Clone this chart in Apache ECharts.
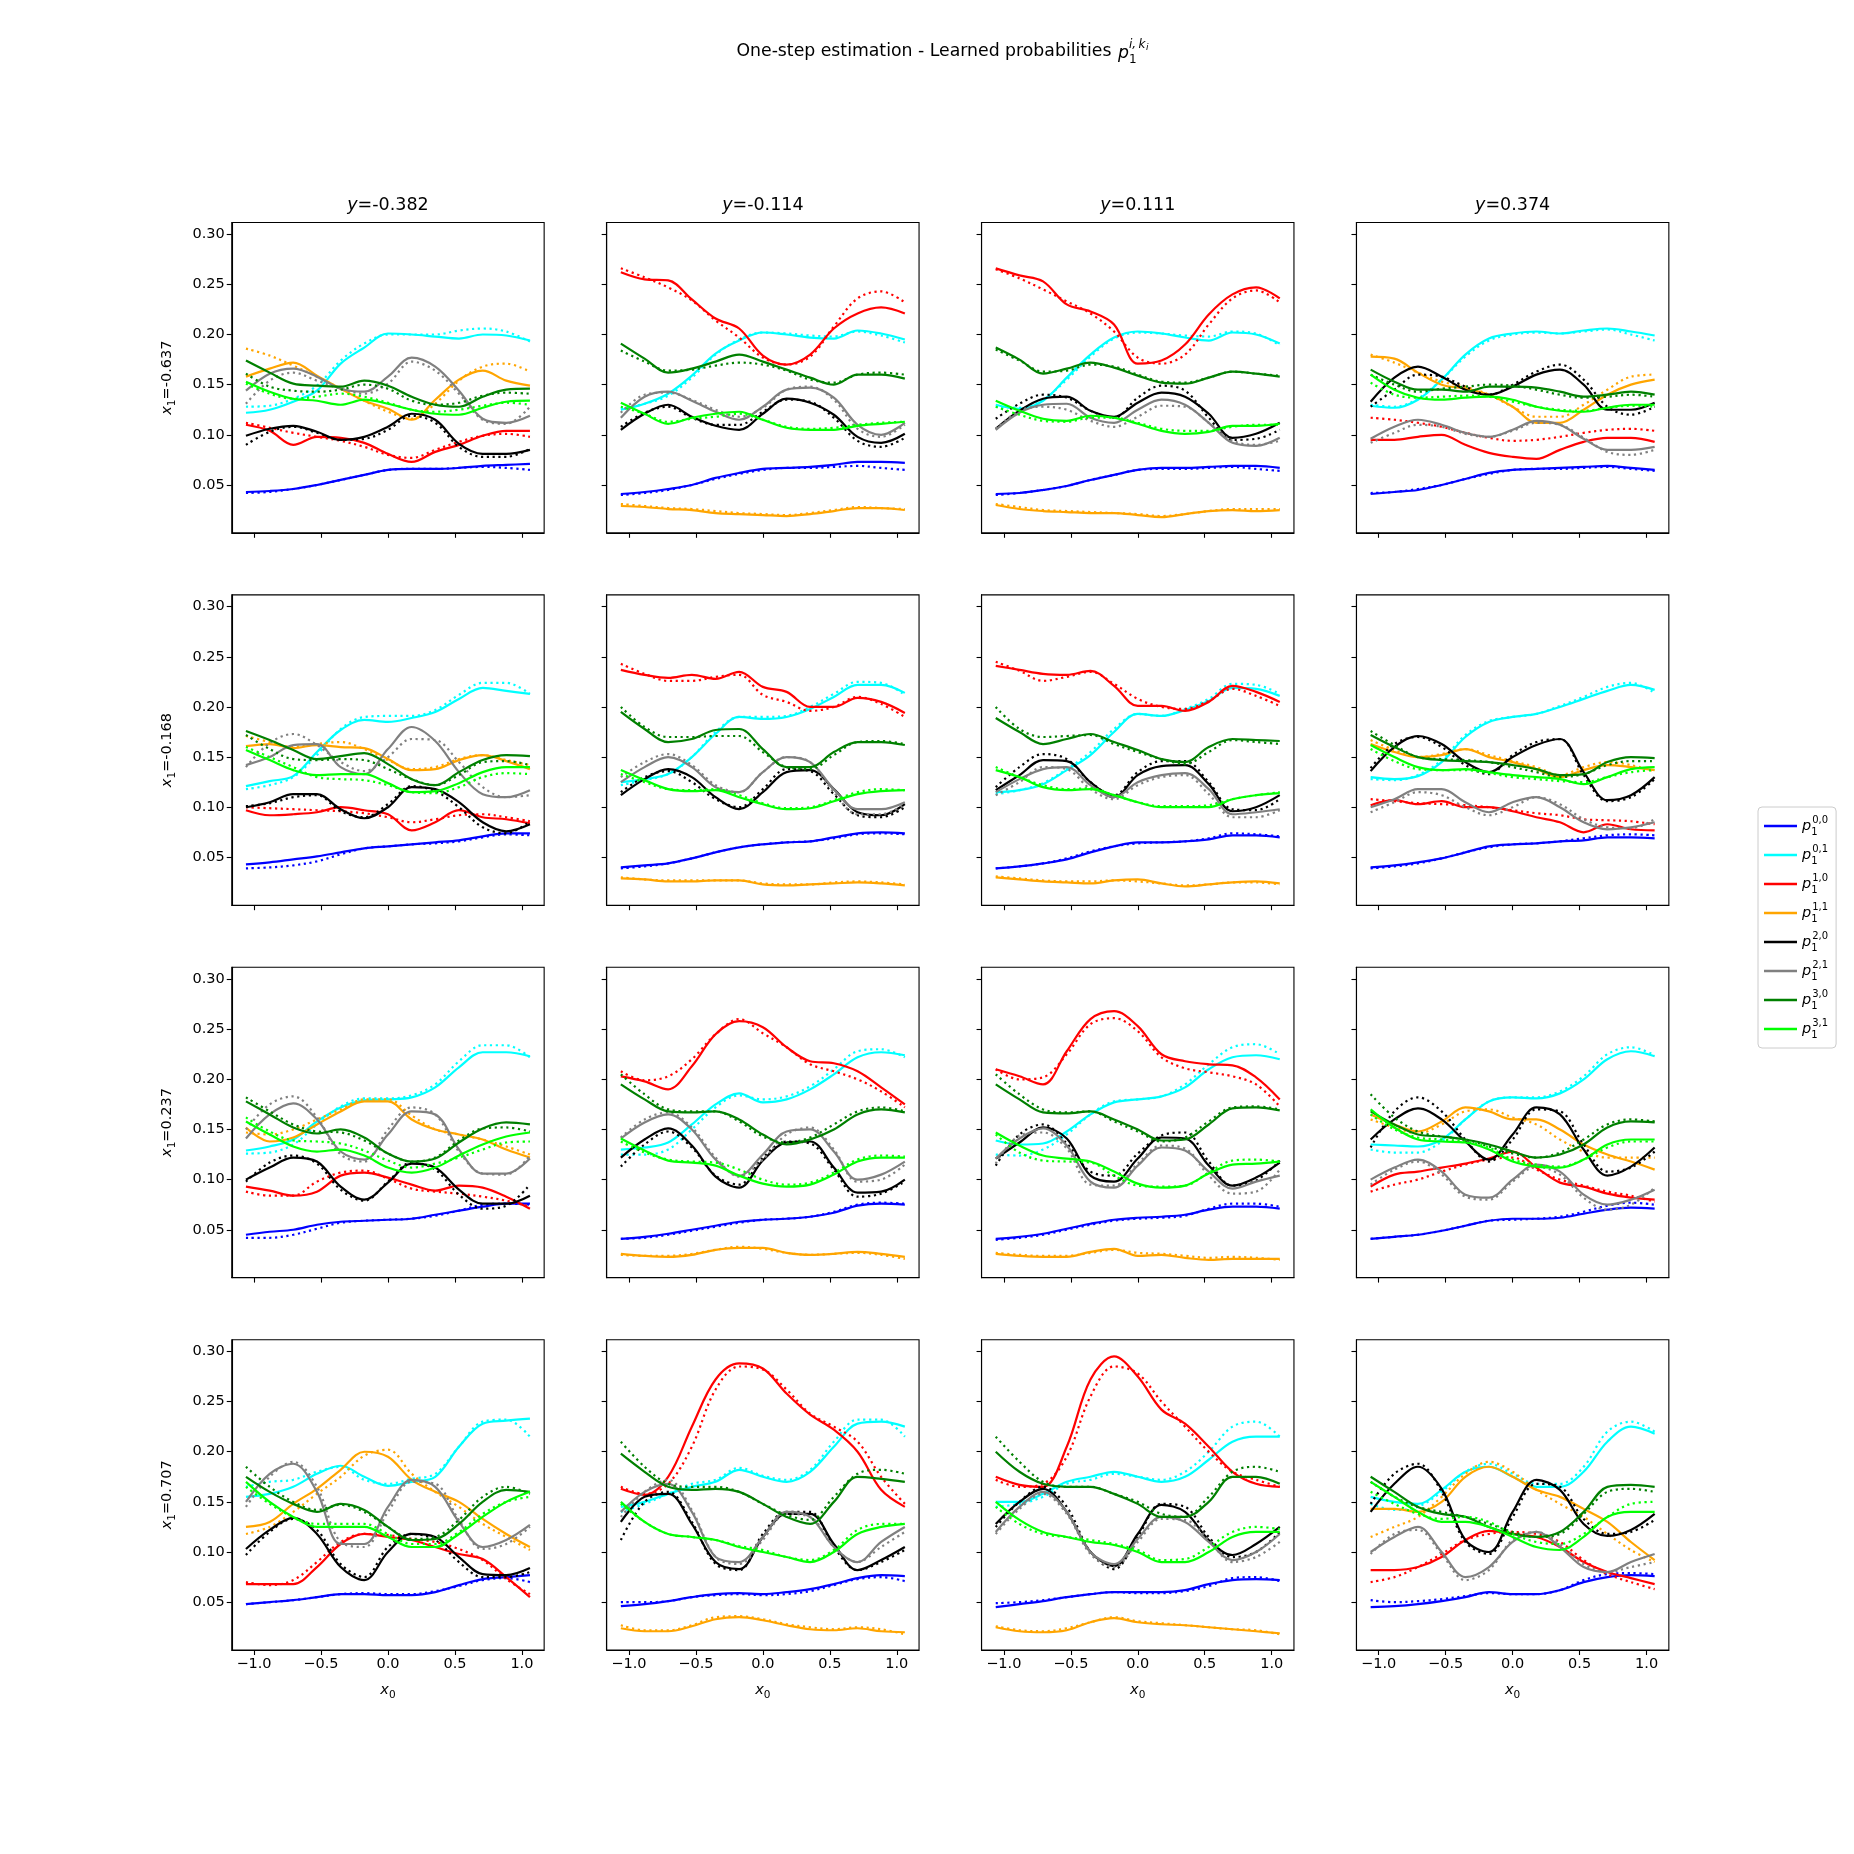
<!DOCTYPE html>
<html><head><meta charset="utf-8">
<script src="https://cdn.jsdelivr.net/npm/echarts@6/dist/echarts.min.js"></script>
<style>html,body{margin:0;padding:0;background:#fff}#c{width:1854px;height:1854px}</style>
</head><body><div id="c"></div>
<script>
// ---------------- data ----------------
const xs = [-1.06,-0.883,-0.707,-0.53,-0.353,-0.177,0,0.177,0.353,0.53,0.707,0.883,1.06];
const colTitles = ['-0.382','-0.114','0.111','0.374'];
const rowTitles = ['-0.637','-0.168','0.237','0.707'];
const seriesKeys = [['0','0'],['0','1'],['1','0'],['1','1'],['2','0'],['2','1'],['3','0'],['3','1']];
const xTickValues = [-1,-0.5,0,0.5,1];
const yTickValues = [0.05,0.10,0.15,0.20,0.25,0.30];
// order in each panel array: p00 blue, p01 cyan, p10 red, p11 orange, p20 black, p21 gray, p30 green, p31 lime
const r1c1_solid = [
 [0.043,0.044,0.046,0.050,0.055,0.060,0.065,0.066,0.066,0.067,0.069,0.070,0.071],
 [0.122,0.125,0.133,0.144,0.171,0.187,0.201,0.200,0.198,0.196,0.200,0.199,0.194],
 [0.110,0.104,0.090,0.098,0.097,0.092,0.081,0.073,0.083,0.090,0.099,0.104,0.104],
 [0.158,0.166,0.172,0.159,0.146,0.134,0.126,0.115,0.135,0.155,0.164,0.154,0.149],
 [0.099,0.106,0.109,0.103,0.095,0.098,0.108,0.121,0.115,0.091,0.081,0.081,0.085],
 [0.144,0.161,0.166,0.158,0.146,0.143,0.158,0.177,0.168,0.144,0.116,0.112,0.119],
 [0.174,0.162,0.151,0.149,0.148,0.154,0.149,0.138,0.130,0.128,0.138,0.145,0.146],
 [0.153,0.143,0.136,0.134,0.130,0.135,0.131,0.125,0.121,0.120,0.127,0.133,0.134]];
const r1c1_dotted = [
 [0.042,0.043,0.046,0.050,0.055,0.060,0.065,0.066,0.066,0.067,0.068,0.067,0.065],
 [0.128,0.129,0.136,0.149,0.174,0.191,0.200,0.200,0.200,0.204,0.206,0.203,0.193],
 [0.112,0.107,0.102,0.098,0.094,0.088,0.080,0.077,0.085,0.093,0.099,0.101,0.098],
 [0.186,0.179,0.169,0.158,0.146,0.134,0.123,0.116,0.131,0.154,0.168,0.171,0.163],
 [0.090,0.103,0.108,0.102,0.095,0.096,0.105,0.119,0.112,0.088,0.078,0.078,0.086],
 [0.131,0.154,0.162,0.154,0.146,0.141,0.151,0.173,0.164,0.141,0.115,0.111,0.128],
 [0.161,0.148,0.144,0.143,0.145,0.150,0.146,0.134,0.130,0.132,0.139,0.142,0.141],
 [0.151,0.141,0.136,0.138,0.141,0.138,0.132,0.125,0.123,0.125,0.129,0.132,0.130]];
const r1c2_solid = [
 [0.041,0.043,0.046,0.050,0.057,0.062,0.066,0.067,0.068,0.070,0.073,0.073,0.072],
 [0.125,0.131,0.141,0.159,0.181,0.194,0.202,0.200,0.197,0.196,0.204,0.201,0.195],
 [0.262,0.255,0.254,0.235,0.216,0.206,0.179,0.170,0.180,0.206,0.221,0.227,0.221],
 [0.029,0.028,0.026,0.025,0.022,0.021,0.020,0.019,0.021,0.024,0.027,0.027,0.025],
 [0.105,0.121,0.130,0.118,0.109,0.105,0.121,0.136,0.132,0.120,0.098,0.092,0.101],
 [0.117,0.138,0.143,0.134,0.123,0.115,0.128,0.145,0.147,0.137,0.110,0.100,0.112],
 [0.191,0.176,0.162,0.166,0.173,0.180,0.173,0.165,0.157,0.150,0.160,0.160,0.156],
 [0.132,0.121,0.111,0.117,0.121,0.123,0.115,0.107,0.105,0.105,0.109,0.111,0.113]];
const r1c2_dotted = [
 [0.040,0.042,0.045,0.050,0.056,0.061,0.065,0.067,0.067,0.068,0.069,0.067,0.065],
 [0.126,0.131,0.139,0.157,0.180,0.195,0.202,0.201,0.199,0.198,0.203,0.199,0.192],
 [0.266,0.257,0.247,0.234,0.214,0.197,0.177,0.170,0.178,0.208,0.236,0.243,0.232],
 [0.031,0.029,0.027,0.026,0.024,0.022,0.021,0.020,0.022,0.025,0.028,0.027,0.026],
 [0.108,0.122,0.128,0.117,0.110,0.110,0.123,0.135,0.133,0.117,0.094,0.088,0.097],
 [0.122,0.140,0.142,0.135,0.125,0.118,0.127,0.145,0.148,0.135,0.106,0.098,0.110],
 [0.184,0.173,0.164,0.165,0.169,0.172,0.170,0.164,0.155,0.152,0.160,0.162,0.160],
 [0.128,0.121,0.113,0.116,0.118,0.121,0.115,0.108,0.106,0.107,0.110,0.112,0.113]];
const r1c3_solid = [
 [0.041,0.042,0.045,0.049,0.055,0.060,0.065,0.067,0.067,0.068,0.069,0.069,0.067],
 [0.130,0.126,0.134,0.157,0.180,0.197,0.203,0.201,0.197,0.194,0.202,0.200,0.191],
 [0.266,0.259,0.253,0.230,0.223,0.210,0.171,0.174,0.190,0.220,0.240,0.247,0.236],
 [0.030,0.026,0.024,0.023,0.022,0.022,0.020,0.018,0.021,0.024,0.025,0.024,0.025],
 [0.106,0.124,0.136,0.138,0.124,0.118,0.132,0.142,0.138,0.121,0.097,0.101,0.112],
 [0.105,0.122,0.130,0.131,0.117,0.112,0.125,0.135,0.130,0.112,0.092,0.089,0.097],
 [0.187,0.175,0.161,0.166,0.172,0.167,0.159,0.152,0.151,0.157,0.163,0.161,0.158],
 [0.134,0.124,0.116,0.114,0.119,0.117,0.111,0.104,0.101,0.103,0.109,0.109,0.111]];
const r1c3_dotted = [
 [0.040,0.042,0.045,0.049,0.055,0.060,0.065,0.066,0.066,0.067,0.068,0.066,0.064],
 [0.128,0.127,0.135,0.155,0.178,0.196,0.202,0.201,0.199,0.198,0.203,0.201,0.189],
 [0.265,0.256,0.245,0.233,0.221,0.203,0.177,0.171,0.180,0.210,0.236,0.244,0.232],
 [0.031,0.028,0.025,0.024,0.023,0.022,0.021,0.019,0.021,0.024,0.026,0.026,0.026],
 [0.116,0.131,0.140,0.137,0.124,0.117,0.137,0.149,0.144,0.117,0.095,0.096,0.105],
 [0.106,0.124,0.128,0.125,0.114,0.108,0.118,0.129,0.128,0.112,0.094,0.090,0.094],
 [0.185,0.174,0.163,0.164,0.170,0.168,0.160,0.153,0.152,0.157,0.163,0.161,0.159],
 [0.128,0.120,0.114,0.113,0.117,0.117,0.112,0.106,0.104,0.104,0.108,0.110,0.110]];
const r1c4_solid = [
 [0.041,0.043,0.045,0.050,0.056,0.062,0.065,0.066,0.067,0.068,0.069,0.067,0.065],
 [0.129,0.127,0.135,0.155,0.180,0.196,0.201,0.203,0.201,0.204,0.206,0.203,0.199],
 [0.095,0.095,0.098,0.100,0.090,0.082,0.078,0.076,0.085,0.093,0.097,0.097,0.093],
 [0.178,0.176,0.162,0.150,0.146,0.140,0.128,0.112,0.112,0.125,0.140,0.150,0.155],
 [0.133,0.157,0.168,0.158,0.145,0.140,0.148,0.160,0.165,0.150,0.125,0.125,0.132],
 [0.096,0.108,0.115,0.110,0.102,0.098,0.105,0.114,0.110,0.096,0.085,0.085,0.088],
 [0.165,0.153,0.145,0.145,0.143,0.148,0.148,0.147,0.143,0.138,0.140,0.143,0.140],
 [0.160,0.145,0.137,0.135,0.137,0.138,0.135,0.128,0.124,0.123,0.127,0.130,0.130]];
const r1c4_dotted = [
 [0.042,0.043,0.046,0.050,0.056,0.061,0.065,0.066,0.066,0.067,0.068,0.066,0.064],
 [0.130,0.128,0.136,0.155,0.178,0.194,0.200,0.202,0.201,0.203,0.205,0.200,0.194],
 [0.117,0.115,0.112,0.108,0.102,0.097,0.094,0.095,0.098,0.102,0.105,0.106,0.104],
 [0.180,0.172,0.162,0.153,0.148,0.140,0.128,0.118,0.118,0.130,0.145,0.158,0.160],
 [0.128,0.145,0.160,0.158,0.148,0.140,0.150,0.163,0.170,0.155,0.128,0.120,0.128],
 [0.092,0.102,0.110,0.108,0.101,0.098,0.104,0.112,0.110,0.097,0.083,0.080,0.085],
 [0.160,0.150,0.143,0.146,0.148,0.150,0.149,0.145,0.140,0.137,0.138,0.140,0.138],
 [0.152,0.140,0.137,0.138,0.139,0.138,0.133,0.128,0.125,0.124,0.127,0.129,0.128]];
const r2c1_solid = [
 [0.043,0.045,0.048,0.051,0.055,0.059,0.061,0.063,0.065,0.067,0.071,0.074,0.074],
 [0.121,0.126,0.131,0.155,0.177,0.187,0.185,0.189,0.195,0.208,0.219,0.216,0.213],
 [0.097,0.092,0.093,0.095,0.100,0.097,0.093,0.077,0.085,0.097,0.090,0.088,0.084],
 [0.161,0.163,0.159,0.162,0.160,0.159,0.148,0.137,0.138,0.147,0.152,0.146,0.138],
 [0.100,0.105,0.113,0.113,0.098,0.089,0.100,0.120,0.118,0.105,0.085,0.076,0.083],
 [0.142,0.150,0.162,0.163,0.140,0.133,0.158,0.180,0.166,0.135,0.113,0.110,0.117],
 [0.176,0.167,0.157,0.148,0.151,0.154,0.143,0.128,0.122,0.135,0.147,0.152,0.151],
 [0.157,0.147,0.137,0.132,0.133,0.133,0.124,0.115,0.116,0.124,0.135,0.140,0.140]];
const r2c1_dotted = [
 [0.039,0.040,0.042,0.046,0.053,0.059,0.061,0.063,0.064,0.066,0.070,0.073,0.072],
 [0.118,0.122,0.130,0.152,0.178,0.190,0.191,0.191,0.197,0.212,0.224,0.224,0.213],
 [0.100,0.099,0.098,0.097,0.096,0.094,0.090,0.085,0.088,0.092,0.093,0.090,0.086],
 [0.171,0.165,0.160,0.163,0.165,0.158,0.147,0.138,0.140,0.148,0.152,0.147,0.142],
 [0.101,0.104,0.110,0.112,0.096,0.090,0.103,0.121,0.116,0.100,0.080,0.074,0.086],
 [0.140,0.164,0.173,0.162,0.145,0.136,0.150,0.168,0.167,0.145,0.120,0.110,0.112],
 [0.172,0.158,0.148,0.147,0.148,0.147,0.138,0.128,0.122,0.132,0.145,0.146,0.142],
 [0.160,0.150,0.140,0.130,0.128,0.127,0.122,0.115,0.114,0.120,0.130,0.134,0.133]];
const r2c2_solid = [
 [0.040,0.042,0.044,0.049,0.055,0.060,0.063,0.065,0.066,0.070,0.074,0.075,0.074],
 [0.125,0.128,0.133,0.150,0.173,0.190,0.188,0.190,0.198,0.210,0.222,0.222,0.214],
 [0.237,0.232,0.229,0.232,0.228,0.235,0.220,0.215,0.200,0.200,0.209,0.205,0.194],
 [0.029,0.028,0.026,0.026,0.027,0.027,0.023,0.022,0.023,0.024,0.025,0.024,0.022],
 [0.112,0.128,0.138,0.130,0.110,0.098,0.115,0.135,0.137,0.118,0.095,0.092,0.103],
 [0.125,0.140,0.150,0.140,0.120,0.115,0.135,0.150,0.145,0.118,0.098,0.098,0.105],
 [0.195,0.178,0.165,0.168,0.177,0.178,0.158,0.140,0.140,0.155,0.165,0.165,0.162],
 [0.137,0.127,0.118,0.116,0.117,0.110,0.103,0.098,0.099,0.106,0.113,0.116,0.117]];
const r2c2_dotted = [
 [0.039,0.041,0.044,0.049,0.055,0.060,0.063,0.065,0.066,0.069,0.073,0.074,0.073],
 [0.122,0.127,0.133,0.150,0.175,0.190,0.190,0.191,0.200,0.213,0.225,0.224,0.212],
 [0.243,0.233,0.226,0.226,0.230,0.232,0.212,0.205,0.196,0.200,0.210,0.203,0.190],
 [0.030,0.028,0.027,0.027,0.027,0.027,0.024,0.023,0.023,0.025,0.026,0.025,0.023],
 [0.115,0.130,0.136,0.125,0.108,0.100,0.118,0.138,0.136,0.113,0.092,0.090,0.100],
 [0.130,0.145,0.153,0.142,0.122,0.115,0.135,0.150,0.145,0.115,0.093,0.093,0.103],
 [0.200,0.180,0.170,0.170,0.171,0.171,0.155,0.140,0.138,0.152,0.165,0.166,0.163],
 [0.133,0.125,0.118,0.117,0.118,0.112,0.104,0.099,0.100,0.107,0.115,0.118,0.117]];
const r2c3_solid = [
 [0.039,0.041,0.044,0.048,0.055,0.061,0.065,0.065,0.066,0.068,0.072,0.072,0.070],
 [0.115,0.117,0.123,0.137,0.152,0.175,0.193,0.191,0.197,0.206,0.219,0.218,0.211],
 [0.241,0.237,0.233,0.232,0.236,0.221,0.201,0.201,0.196,0.205,0.221,0.215,0.205],
 [0.030,0.028,0.026,0.025,0.024,0.027,0.028,0.024,0.021,0.023,0.025,0.026,0.024],
 [0.117,0.132,0.147,0.146,0.125,0.110,0.132,0.141,0.142,0.123,0.096,0.100,0.112],
 [0.115,0.128,0.138,0.140,0.122,0.110,0.125,0.132,0.134,0.118,0.093,0.095,0.098],
 [0.189,0.175,0.163,0.168,0.173,0.165,0.157,0.148,0.145,0.160,0.168,0.167,0.166],
 [0.137,0.130,0.120,0.117,0.118,0.112,0.105,0.100,0.100,0.100,0.108,0.112,0.114]];
const r2c3_dotted = [
 [0.039,0.041,0.044,0.049,0.056,0.061,0.064,0.065,0.066,0.069,0.074,0.073,0.071],
 [0.113,0.117,0.124,0.138,0.155,0.178,0.193,0.191,0.198,0.208,0.223,0.222,0.213],
 [0.245,0.236,0.226,0.230,0.235,0.223,0.208,0.200,0.198,0.206,0.218,0.211,0.201],
 [0.031,0.029,0.027,0.026,0.026,0.027,0.026,0.024,0.022,0.023,0.025,0.025,0.023],
 [0.120,0.140,0.153,0.148,0.125,0.112,0.135,0.146,0.146,0.125,0.098,0.097,0.108],
 [0.112,0.125,0.140,0.138,0.118,0.108,0.122,0.130,0.132,0.113,0.090,0.090,0.097],
 [0.200,0.178,0.170,0.171,0.172,0.163,0.155,0.148,0.143,0.155,0.167,0.165,0.163],
 [0.140,0.130,0.122,0.118,0.119,0.112,0.105,0.101,0.101,0.102,0.108,0.112,0.115]];
const r2c4_solid = [
 [0.040,0.042,0.045,0.049,0.055,0.061,0.063,0.064,0.066,0.067,0.070,0.070,0.069],
 [0.130,0.128,0.131,0.145,0.170,0.185,0.190,0.193,0.200,0.208,0.216,0.222,0.217],
 [0.102,0.107,0.103,0.106,0.100,0.100,0.096,0.090,0.085,0.075,0.083,0.078,0.077],
 [0.163,0.155,0.150,0.152,0.158,0.150,0.145,0.138,0.130,0.137,0.142,0.140,0.137],
 [0.136,0.160,0.171,0.163,0.145,0.135,0.150,0.162,0.168,0.135,0.107,0.112,0.130],
 [0.100,0.108,0.118,0.118,0.105,0.095,0.105,0.110,0.100,0.085,0.078,0.080,0.085],
 [0.172,0.160,0.150,0.147,0.146,0.145,0.142,0.138,0.132,0.133,0.145,0.150,0.149],
 [0.162,0.150,0.140,0.137,0.138,0.135,0.132,0.130,0.128,0.123,0.130,0.138,0.140]];
const r2c4_dotted = [
 [0.039,0.041,0.044,0.049,0.055,0.060,0.063,0.064,0.066,0.069,0.072,0.073,0.072],
 [0.128,0.127,0.132,0.147,0.172,0.186,0.190,0.193,0.201,0.210,0.220,0.224,0.214],
 [0.108,0.106,0.104,0.103,0.102,0.100,0.097,0.094,0.092,0.088,0.087,0.086,0.083],
 [0.167,0.157,0.150,0.153,0.158,0.152,0.146,0.140,0.132,0.140,0.145,0.142,0.136],
 [0.139,0.163,0.170,0.160,0.142,0.133,0.152,0.165,0.168,0.132,0.106,0.110,0.128],
 [0.095,0.105,0.115,0.112,0.100,0.092,0.100,0.110,0.103,0.088,0.080,0.079,0.088],
 [0.176,0.162,0.150,0.148,0.147,0.145,0.140,0.135,0.130,0.133,0.142,0.146,0.146],
 [0.158,0.146,0.138,0.137,0.137,0.134,0.130,0.128,0.126,0.125,0.130,0.135,0.137]];
const r3c1_solid = [
 [0.045,0.048,0.050,0.055,0.058,0.059,0.060,0.061,0.065,0.069,0.073,0.076,0.076],
 [0.129,0.133,0.140,0.158,0.172,0.179,0.180,0.182,0.192,0.212,0.227,0.227,0.223],
 [0.093,0.089,0.084,0.088,0.104,0.107,0.102,0.095,0.089,0.094,0.092,0.083,0.071],
 [0.152,0.138,0.142,0.155,0.168,0.178,0.178,0.160,0.150,0.145,0.140,0.130,0.122],
 [0.100,0.112,0.122,0.118,0.093,0.080,0.097,0.116,0.112,0.090,0.076,0.076,0.084],
 [0.141,0.165,0.176,0.160,0.128,0.120,0.145,0.168,0.165,0.130,0.106,0.106,0.121],
 [0.178,0.165,0.152,0.146,0.150,0.142,0.126,0.118,0.121,0.137,0.151,0.157,0.155],
 [0.158,0.145,0.133,0.128,0.130,0.124,0.112,0.107,0.112,0.124,0.135,0.143,0.147]];
const r3c1_dotted = [
 [0.042,0.042,0.045,0.051,0.057,0.059,0.060,0.061,0.064,0.069,0.075,0.076,0.075],
 [0.126,0.127,0.135,0.155,0.173,0.181,0.181,0.184,0.195,0.218,0.234,0.234,0.222],
 [0.088,0.084,0.084,0.098,0.107,0.109,0.101,0.091,0.088,0.086,0.083,0.079,0.073],
 [0.147,0.145,0.150,0.160,0.170,0.180,0.180,0.164,0.150,0.145,0.140,0.133,0.125],
 [0.098,0.117,0.124,0.116,0.090,0.079,0.098,0.117,0.110,0.085,0.071,0.074,0.095],
 [0.150,0.175,0.183,0.162,0.125,0.118,0.150,0.172,0.165,0.128,0.106,0.105,0.124],
 [0.182,0.168,0.155,0.148,0.147,0.139,0.126,0.118,0.122,0.139,0.151,0.152,0.148],
 [0.162,0.148,0.139,0.138,0.136,0.129,0.119,0.112,0.116,0.122,0.130,0.137,0.138]];
const r3c2_solid = [
 [0.041,0.043,0.046,0.050,0.054,0.058,0.060,0.061,0.063,0.067,0.074,0.076,0.075],
 [0.130,0.132,0.137,0.155,0.175,0.186,0.177,0.180,0.190,0.205,0.222,0.227,0.224],
 [0.203,0.198,0.190,0.213,0.245,0.258,0.252,0.232,0.218,0.216,0.208,0.192,0.175],
 [0.026,0.024,0.023,0.025,0.030,0.032,0.032,0.027,0.025,0.026,0.028,0.026,0.023],
 [0.122,0.140,0.151,0.134,0.103,0.092,0.119,0.137,0.138,0.112,0.087,0.088,0.100],
 [0.141,0.157,0.165,0.150,0.120,0.104,0.125,0.148,0.150,0.128,0.100,0.105,0.118],
 [0.195,0.180,0.168,0.167,0.168,0.160,0.145,0.135,0.140,0.150,0.165,0.170,0.167],
 [0.141,0.129,0.119,0.117,0.114,0.104,0.096,0.093,0.095,0.105,0.118,0.122,0.122]];
const r3c2_dotted = [
 [0.041,0.042,0.045,0.049,0.053,0.057,0.060,0.061,0.063,0.068,0.075,0.077,0.076],
 [0.125,0.125,0.130,0.150,0.172,0.184,0.180,0.183,0.193,0.210,0.228,0.230,0.222],
 [0.208,0.199,0.203,0.220,0.245,0.260,0.246,0.232,0.215,0.208,0.200,0.188,0.172],
 [0.025,0.024,0.024,0.026,0.030,0.033,0.031,0.027,0.025,0.026,0.027,0.025,0.021],
 [0.113,0.135,0.148,0.132,0.104,0.095,0.122,0.138,0.136,0.110,0.083,0.086,0.098],
 [0.142,0.160,0.167,0.152,0.122,0.103,0.120,0.145,0.152,0.130,0.098,0.100,0.115],
 [0.205,0.185,0.170,0.168,0.168,0.158,0.143,0.137,0.142,0.155,0.168,0.172,0.168],
 [0.138,0.127,0.120,0.118,0.117,0.110,0.100,0.095,0.097,0.107,0.120,0.124,0.123]];
const r3c3_solid = [
 [0.041,0.043,0.046,0.051,0.056,0.060,0.062,0.063,0.065,0.070,0.073,0.073,0.071],
 [0.139,0.135,0.136,0.148,0.165,0.177,0.180,0.183,0.192,0.210,0.222,0.224,0.220],
 [0.210,0.203,0.195,0.228,0.260,0.268,0.253,0.225,0.218,0.215,0.214,0.202,0.180],
 [0.026,0.024,0.023,0.023,0.028,0.031,0.024,0.025,0.022,0.020,0.021,0.021,0.021],
 [0.121,0.137,0.152,0.141,0.104,0.098,0.121,0.142,0.141,0.114,0.094,0.102,0.117],
 [0.121,0.141,0.151,0.134,0.098,0.092,0.114,0.132,0.129,0.108,0.091,0.098,0.104],
 [0.195,0.180,0.167,0.166,0.168,0.160,0.150,0.139,0.140,0.155,0.171,0.172,0.169],
 [0.147,0.134,0.124,0.121,0.118,0.108,0.096,0.092,0.094,0.106,0.115,0.116,0.118]];
const r3c3_dotted = [
 [0.040,0.042,0.045,0.050,0.055,0.059,0.061,0.062,0.064,0.071,0.076,0.076,0.073],
 [0.125,0.124,0.130,0.145,0.165,0.178,0.180,0.183,0.195,0.215,0.232,0.235,0.225],
 [0.210,0.200,0.202,0.225,0.255,0.261,0.248,0.222,0.211,0.207,0.203,0.195,0.173],
 [0.027,0.025,0.024,0.024,0.027,0.030,0.027,0.026,0.024,0.022,0.023,0.022,0.020],
 [0.114,0.145,0.155,0.136,0.108,0.104,0.126,0.144,0.147,0.118,0.094,0.099,0.119],
 [0.116,0.144,0.147,0.131,0.095,0.094,0.116,0.134,0.131,0.104,0.086,0.088,0.110],
 [0.205,0.185,0.170,0.167,0.168,0.158,0.148,0.138,0.142,0.158,0.172,0.173,0.170],
 [0.145,0.127,0.119,0.118,0.117,0.104,0.094,0.093,0.094,0.107,0.119,0.120,0.118]];
const r3c4_solid = [
 [0.041,0.043,0.045,0.049,0.054,0.059,0.061,0.061,0.062,0.066,0.070,0.072,0.071],
 [0.135,0.134,0.133,0.140,0.160,0.178,0.182,0.181,0.186,0.200,0.220,0.228,0.223],
 [0.093,0.105,0.108,0.112,0.116,0.121,0.128,0.112,0.097,0.093,0.086,0.082,0.080],
 [0.165,0.155,0.148,0.158,0.172,0.168,0.160,0.160,0.150,0.135,0.125,0.118,0.110],
 [0.140,0.160,0.171,0.160,0.138,0.120,0.145,0.172,0.165,0.130,0.104,0.113,0.132],
 [0.100,0.112,0.120,0.108,0.085,0.082,0.100,0.115,0.108,0.085,0.075,0.080,0.090],
 [0.168,0.155,0.145,0.143,0.140,0.135,0.128,0.122,0.125,0.135,0.152,0.158,0.157],
 [0.170,0.152,0.140,0.138,0.137,0.130,0.118,0.113,0.112,0.120,0.135,0.140,0.140]];
const r3c4_dotted = [
 [0.041,0.043,0.045,0.049,0.054,0.059,0.060,0.061,0.063,0.068,0.074,0.077,0.075],
 [0.130,0.127,0.127,0.138,0.160,0.178,0.182,0.182,0.188,0.203,0.225,0.232,0.224],
 [0.088,0.095,0.100,0.108,0.115,0.120,0.122,0.110,0.100,0.094,0.088,0.084,0.078],
 [0.160,0.152,0.146,0.155,0.168,0.170,0.162,0.155,0.140,0.128,0.122,0.122,0.122],
 [0.132,0.168,0.182,0.168,0.140,0.118,0.140,0.170,0.168,0.135,0.108,0.112,0.128],
 [0.095,0.110,0.118,0.105,0.083,0.080,0.098,0.113,0.105,0.082,0.070,0.075,0.092],
 [0.185,0.162,0.148,0.143,0.140,0.133,0.126,0.122,0.127,0.140,0.155,0.160,0.158],
 [0.165,0.150,0.142,0.140,0.138,0.132,0.120,0.115,0.113,0.120,0.132,0.138,0.138]];
const r4c1_solid = [
 [0.048,0.050,0.052,0.055,0.058,0.058,0.057,0.057,0.060,0.067,0.073,0.075,0.077],
 [0.155,0.158,0.165,0.178,0.186,0.175,0.166,0.170,0.175,0.205,0.228,0.231,0.233],
 [0.068,0.068,0.068,0.085,0.108,0.118,0.115,0.112,0.105,0.098,0.093,0.075,0.055],
 [0.125,0.130,0.148,0.163,0.182,0.200,0.195,0.172,0.160,0.150,0.133,0.118,0.105],
 [0.103,0.122,0.134,0.118,0.085,0.072,0.100,0.118,0.115,0.095,0.078,0.077,0.084],
 [0.150,0.178,0.188,0.160,0.108,0.108,0.145,0.172,0.165,0.130,0.105,0.112,0.127],
 [0.175,0.160,0.148,0.140,0.148,0.142,0.125,0.112,0.113,0.128,0.150,0.162,0.160],
 [0.170,0.150,0.135,0.125,0.125,0.125,0.115,0.105,0.105,0.118,0.135,0.150,0.160]];
const r4c1_dotted = [
 [0.048,0.050,0.052,0.055,0.058,0.059,0.058,0.058,0.061,0.066,0.072,0.074,0.070],
 [0.165,0.170,0.172,0.180,0.185,0.172,0.168,0.173,0.178,0.205,0.230,0.232,0.215],
 [0.070,0.067,0.072,0.090,0.110,0.118,0.117,0.113,0.110,0.103,0.092,0.073,0.058],
 [0.118,0.125,0.140,0.158,0.175,0.196,0.202,0.178,0.160,0.145,0.128,0.115,0.102],
 [0.097,0.120,0.133,0.122,0.088,0.075,0.105,0.118,0.112,0.090,0.075,0.075,0.080],
 [0.145,0.175,0.190,0.165,0.110,0.105,0.140,0.170,0.168,0.132,0.103,0.108,0.125],
 [0.185,0.165,0.150,0.142,0.147,0.140,0.125,0.113,0.115,0.132,0.155,0.165,0.158],
 [0.165,0.148,0.135,0.128,0.128,0.128,0.118,0.108,0.108,0.120,0.138,0.150,0.155]];
const r4c2_solid = [
 [0.046,0.048,0.051,0.055,0.058,0.059,0.058,0.060,0.063,0.068,0.074,0.077,0.076],
 [0.145,0.150,0.158,0.165,0.170,0.182,0.175,0.170,0.180,0.205,0.228,0.230,0.225],
 [0.163,0.157,0.175,0.225,0.272,0.288,0.283,0.258,0.237,0.222,0.200,0.162,0.145],
 [0.024,0.021,0.021,0.026,0.033,0.035,0.032,0.027,0.023,0.022,0.024,0.021,0.020],
 [0.130,0.155,0.158,0.128,0.090,0.083,0.115,0.138,0.138,0.108,0.082,0.092,0.105],
 [0.140,0.160,0.168,0.140,0.095,0.090,0.115,0.140,0.135,0.105,0.090,0.110,0.125],
 [0.198,0.180,0.165,0.162,0.163,0.160,0.148,0.135,0.128,0.150,0.175,0.173,0.170],
 [0.150,0.130,0.118,0.115,0.112,0.105,0.100,0.095,0.090,0.100,0.118,0.125,0.128]];
const r4c2_dotted = [
 [0.050,0.050,0.051,0.055,0.057,0.058,0.057,0.058,0.061,0.067,0.073,0.075,0.071],
 [0.140,0.148,0.158,0.168,0.172,0.184,0.176,0.172,0.182,0.210,0.232,0.232,0.215],
 [0.165,0.158,0.168,0.205,0.262,0.285,0.282,0.262,0.238,0.225,0.210,0.175,0.148],
 [0.027,0.022,0.022,0.027,0.035,0.036,0.033,0.028,0.025,0.023,0.025,0.023,0.018],
 [0.112,0.150,0.160,0.130,0.088,0.082,0.118,0.140,0.140,0.105,0.082,0.090,0.102],
 [0.135,0.160,0.172,0.142,0.095,0.088,0.112,0.138,0.135,0.105,0.090,0.105,0.120],
 [0.210,0.185,0.168,0.165,0.165,0.160,0.148,0.137,0.132,0.155,0.178,0.182,0.178],
 [0.148,0.130,0.118,0.115,0.112,0.106,0.102,0.095,0.092,0.102,0.122,0.128,0.128]];
const r4c3_solid = [
 [0.045,0.048,0.051,0.055,0.058,0.060,0.060,0.060,0.062,0.068,0.072,0.073,0.072],
 [0.150,0.150,0.158,0.170,0.175,0.180,0.175,0.170,0.175,0.192,0.210,0.215,0.215],
 [0.175,0.167,0.165,0.205,0.272,0.295,0.275,0.242,0.228,0.205,0.180,0.168,0.165],
 [0.025,0.021,0.020,0.022,0.030,0.034,0.030,0.028,0.027,0.025,0.023,0.021,0.019],
 [0.128,0.150,0.163,0.140,0.100,0.086,0.118,0.147,0.140,0.112,0.097,0.108,0.125],
 [0.120,0.145,0.160,0.140,0.100,0.088,0.113,0.135,0.130,0.110,0.092,0.100,0.118],
 [0.200,0.180,0.168,0.165,0.165,0.158,0.148,0.135,0.135,0.150,0.175,0.175,0.168],
 [0.150,0.132,0.120,0.115,0.110,0.107,0.100,0.090,0.090,0.100,0.115,0.120,0.120]];
const r4c3_dotted = [
 [0.049,0.050,0.052,0.055,0.058,0.060,0.059,0.059,0.061,0.066,0.074,0.075,0.071],
 [0.145,0.148,0.155,0.168,0.172,0.178,0.175,0.172,0.180,0.200,0.225,0.230,0.215],
 [0.172,0.165,0.168,0.195,0.255,0.285,0.278,0.250,0.225,0.200,0.180,0.172,0.165],
 [0.026,0.022,0.021,0.024,0.030,0.035,0.031,0.029,0.027,0.025,0.023,0.022,0.018],
 [0.125,0.150,0.165,0.145,0.100,0.083,0.115,0.148,0.145,0.115,0.095,0.100,0.120],
 [0.118,0.143,0.158,0.138,0.098,0.085,0.110,0.133,0.132,0.112,0.090,0.095,0.110],
 [0.215,0.190,0.170,0.165,0.165,0.158,0.150,0.138,0.135,0.155,0.180,0.185,0.180],
 [0.145,0.128,0.118,0.115,0.112,0.108,0.102,0.092,0.093,0.105,0.120,0.125,0.123]];
const r4c4_solid = [
 [0.045,0.046,0.048,0.051,0.055,0.060,0.058,0.058,0.062,0.070,0.075,0.077,0.076],
 [0.155,0.150,0.148,0.162,0.180,0.185,0.175,0.165,0.165,0.180,0.210,0.225,0.218],
 [0.082,0.082,0.085,0.095,0.112,0.121,0.118,0.115,0.105,0.090,0.080,0.074,0.068],
 [0.143,0.143,0.140,0.150,0.175,0.185,0.175,0.162,0.155,0.143,0.130,0.110,0.092],
 [0.140,0.168,0.185,0.163,0.112,0.100,0.140,0.172,0.162,0.128,0.116,0.122,0.138],
 [0.100,0.115,0.125,0.100,0.075,0.085,0.110,0.120,0.105,0.085,0.080,0.090,0.098],
 [0.175,0.160,0.145,0.138,0.135,0.125,0.118,0.115,0.120,0.140,0.165,0.167,0.165],
 [0.170,0.155,0.140,0.130,0.130,0.125,0.115,0.105,0.102,0.115,0.135,0.140,0.140]];
const r4c4_dotted = [
 [0.052,0.050,0.051,0.053,0.056,0.059,0.058,0.058,0.062,0.072,0.078,0.079,0.078],
 [0.148,0.142,0.145,0.160,0.180,0.188,0.178,0.168,0.168,0.185,0.220,0.230,0.220],
 [0.070,0.075,0.085,0.098,0.112,0.118,0.120,0.118,0.110,0.092,0.078,0.070,0.063],
 [0.115,0.125,0.135,0.155,0.178,0.190,0.180,0.162,0.148,0.135,0.118,0.102,0.090],
 [0.148,0.178,0.188,0.160,0.110,0.098,0.135,0.168,0.165,0.133,0.118,0.120,0.132],
 [0.098,0.118,0.122,0.098,0.072,0.082,0.112,0.120,0.108,0.088,0.080,0.085,0.090],
 [0.170,0.155,0.145,0.140,0.135,0.128,0.120,0.115,0.118,0.138,0.160,0.163,0.160],
 [0.160,0.148,0.138,0.133,0.135,0.130,0.118,0.110,0.108,0.118,0.135,0.148,0.150]];

const panelData = [
 [r1c1_solid,r1c1_dotted],[r1c2_solid,r1c2_dotted],[r1c3_solid,r1c3_dotted],[r1c4_solid,r1c4_dotted],
 [r2c1_solid,r2c1_dotted],[r2c2_solid,r2c2_dotted],[r2c3_solid,r2c3_dotted],[r2c4_solid,r2c4_dotted],
 [r3c1_solid,r3c1_dotted],[r3c2_solid,r3c2_dotted],[r3c3_solid,r3c3_dotted],[r3c4_solid,r3c4_dotted],
 [r4c1_solid,r4c1_dotted],[r4c2_solid,r4c2_dotted],[r4c3_solid,r4c3_dotted],[r4c4_solid,r4c4_dotted]];

// ---------------- styles / layout ----------------
const seriesColors = ['#0000ff','#00ffff','#ff0000','#ffa500','#000000','#808080','#008000','#00ff00'];
const FONT = "'DejaVu Sans', sans-serif";
const L0 = 231.75, CSTEP = 374.9, PW = 312.4;
const T0 = 222.5, RSTEP = 372.4, PH = 310.3;
const XMIN = -1.166, XMAX = 1.166, YMIN = 0.0023, YMAX = 0.3117;
const LW = 2.2;

const fmtX = v => (v < 0 ? '\u2212' : '') + Math.abs(v).toFixed(1);
const fmtY = v => v.toFixed(2);

const grids = [], xAxes = [], yAxes = [], series = [];
panelData.forEach((pd, p) => {
  const r = Math.floor(p / 4), c = p % 4;
  grids.push({left: L0 + c * CSTEP, top: T0 + r * RSTEP, width: PW, height: PH,
    show: true, borderColor: '#000', borderWidth: 1.1, backgroundColor: '#fff', containLabel: false});
  xAxes.push({gridIndex: p, type: 'value', min: XMIN, max: XMAX,
    splitLine: {show: false},
    axisLine: {show: true, onZero: false, lineStyle: {color: '#000', width: 1.1}},
    axisTick: {show: true, inside: false, length: 5, lineStyle: {color: '#000', width: 1.1}, customValues: xTickValues},
    axisLabel: {show: r === 3, customValues: xTickValues, formatter: fmtX, color: '#000',
      fontFamily: FONT, fontSize: 14.5, margin: 7}});
  yAxes.push({gridIndex: p, type: 'value', min: YMIN, max: YMAX,
    splitLine: {show: false},
    axisLine: {show: true, onZero: false, lineStyle: {color: '#000', width: 1.1}},
    axisTick: {show: true, inside: false, length: 5, lineStyle: {color: '#000', width: 1.1}, customValues: yTickValues},
    axisLabel: {show: c === 0, customValues: yTickValues, formatter: fmtY, color: '#000',
      fontFamily: FONT, fontSize: 14.5, margin: 7}});
  const [solid, dotted] = pd;
  for (let k = 0; k < 8; k++) {
    const nm = 'p' + seriesKeys[k][0] + seriesKeys[k][1];
    series.push({type: 'line', name: nm, xAxisIndex: p, yAxisIndex: p,
      data: xs.map((x, i) => [x, solid[k][i]]), smooth: 0.35, symbol: 'none', showSymbol: false,
      lineStyle: {color: seriesColors[k], width: LW}, itemStyle: {color: seriesColors[k]},
      emphasis: {disabled: true}, silent: true});
    series.push({type: 'line', name: nm + '_est', xAxisIndex: p, yAxisIndex: p,
      data: xs.map((x, i) => [x, dotted[k][i]]), smooth: 0.35, symbol: 'none', showSymbol: false,
      lineStyle: {color: seriesColors[k], width: LW, type: [LW, 3.6], cap: 'butt'}, itemStyle: {color: seriesColors[k]},
      emphasis: {disabled: true}, silent: true});
  }
});

// ---------------- texts ----------------
const g = [];
const richBase = {
  n: {fontFamily: FONT, fontSize: 17.5, color: '#000'},
  i: {fontFamily: FONT, fontSize: 17.5, fontStyle: 'italic', color: '#000'}
};
colTitles.forEach((t, c) => {
  g.push({type: 'text', x: L0 + c * CSTEP + PW / 2, y: 214,
    style: {text: '{i|y}{n|=' + t + '}', rich: richBase, align: 'center', verticalAlign: 'bottom',
      textAlign: 'center', textVerticalAlign: 'bottom', fill: '#000'}});
});
const richAx = {
  n: {fontFamily: FONT, fontSize: 14.5, color: '#000', lineHeight: 22, verticalAlign: 'middle'},
  i: {fontFamily: FONT, fontSize: 14.5, fontStyle: 'italic', color: '#000', lineHeight: 22, verticalAlign: 'middle'},
  s: {fontFamily: FONT, fontSize: 10.5, color: '#000', lineHeight: 12, verticalAlign: 'bottom'}
};
rowTitles.forEach((t, r) => {
  g.push({type: 'text', x: 167, y: T0 + r * RSTEP + PH / 2, rotation: Math.PI / 2,
    style: {text: '{i|x}{s|1}{n|=' + t + '}', rich: richAx, align: 'center', verticalAlign: 'middle',
      textAlign: 'center', textVerticalAlign: 'middle', fill: '#000'}});
});
for (let c = 0; c < 4; c++) {
  g.push({type: 'text', x: L0 + c * CSTEP + PW / 2, y: 1690,
    style: {text: '{i|x}{s|0}', rich: richAx, align: 'center', verticalAlign: 'middle',
      textAlign: 'center', textVerticalAlign: 'middle', fill: '#000'}});
}
// suptitle
const TX = 1117, TY = 52;
g.push({type: 'text', x: TX, y: TY, style: {text: 'One-step estimation - Learned probabilities ',
  font: '17.3px ' + FONT, fill: '#000', align: 'right', verticalAlign: 'middle', textAlign: 'right', textVerticalAlign: 'middle'}});
g.push({type: 'text', x: TX + 1, y: TY + 2, style: {text: 'p', font: 'italic 17.3px ' + FONT, fill: '#000',
  align: 'left', verticalAlign: 'middle', textAlign: 'left', textVerticalAlign: 'middle'}});
g.push({type: 'text', x: TX + 12, y: TY + 8, style: {text: '1', font: '12px ' + FONT, fill: '#000',
  align: 'left', verticalAlign: 'middle', textAlign: 'left', textVerticalAlign: 'middle'}});
g.push({type: 'text', x: TX + 12, y: TY - 7, style: {text: 'i,\u2009k', font: 'italic 12px ' + FONT, fill: '#000',
  align: 'left', verticalAlign: 'middle', textAlign: 'left', textVerticalAlign: 'middle'}});
g.push({type: 'text', x: TX + 29, y: TY - 4, style: {text: 'i', font: 'italic 9px ' + FONT, fill: '#000',
  align: 'left', verticalAlign: 'middle', textAlign: 'left', textVerticalAlign: 'middle'}});

const option = {
  animation: false,
  backgroundColor: '#ffffff',
  grid: grids, xAxis: xAxes, yAxis: yAxes, series: series,
  legend: {
    data: seriesKeys.map(k => 'p' + k[0] + k[1]),
    orient: 'vertical', left: 1758, top: 807, icon: 'rect', itemWidth: 33, itemHeight: 2.4,
    itemGap: 7, padding: [8, 8, 8, 6], borderColor: '#cccccc', borderWidth: 1, borderRadius: 4,
    backgroundColor: '#ffffff', selectedMode: false,
    formatter: n => '{p|p}{s|1}{u|' + n[1] + ',' + n[2] + '}',
    textStyle: {color: '#000', fontFamily: FONT, fontSize: 14.5,
      rich: {
        p: {fontFamily: FONT, fontSize: 14.5, fontStyle: 'italic', color: '#000', lineHeight: 22, verticalAlign: 'middle'},
        s: {fontFamily: FONT, fontSize: 10, color: '#000', lineHeight: 11, verticalAlign: 'bottom', width: 1},
        u: {fontFamily: FONT, fontSize: 10, color: '#000', lineHeight: 15, verticalAlign: 'top'}
      }}
  },
  graphic: {elements: g}
};
const chart = echarts.init(document.getElementById('c'), null, {renderer: 'canvas'});
chart.setOption(option);
</script></body></html>
